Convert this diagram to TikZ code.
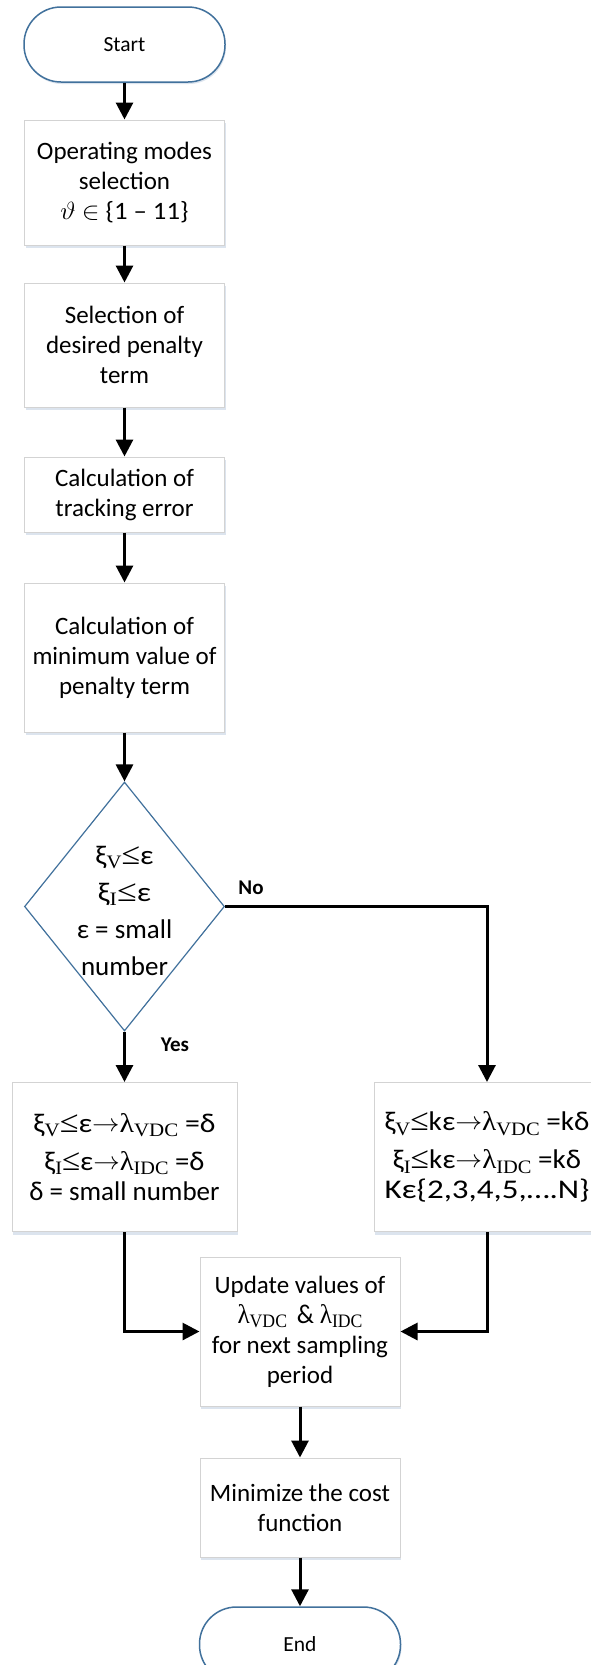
\documentclass[tikz,border=0pt]{standalone}
\usepackage{fontspec}
\setmainfont{Carlito}
\newfontfamily\tnr{Liberation Serif}
\usetikzlibrary{arrows.meta,shapes.geometric,shadows}
\definecolor{termblue}{HTML}{41719C}
\definecolor{boxgray}{HTML}{D3D3D3}
\definecolor{shade}{HTML}{DCE4EE}
\newcommand{\sbx}[1]{\raisebox{-0.16em}{\tnr\fontsize{19}{19}\selectfont #1}}
\newcommand{\tlam}{{\tnr λ}}
\newcommand{\tleq}{{\tnr\fontsize{31}{31}\selectfont ≤}}
\newcommand{\tto}{\raisebox{1pt}{\fontsize{23}{23}\selectfont$\rightarrow$}}
\newcommand{\fitw}[2]{\resizebox{#1}{\height}{#2}}
\begin{document}
\begin{tikzpicture}[x=1pt,y=-1pt,
  procbox/.style={draw=boxgray, line width=1pt, fill=white, minimum width=200pt,
    align=center, inner sep=0pt,
    drop shadow={shadow xshift=1pt, shadow yshift=-3pt, fill=shade, opacity=1},
    font=\fontsize{25}{30}\selectfont},
  mathbox/.style={procbox, font=\fontsize{27}{38}\selectfont},
  term/.style={draw=termblue, line width=1.5pt, fill=white, rounded corners=37pt,
    minimum width=201pt, minimum height=75pt, inner sep=0pt,
    drop shadow={shadow xshift=1pt, shadow yshift=-2pt, fill=shade, opacity=1},
    font=\fontsize{21.5}{26}\selectfont},
  decision/.style={shape=diamond, draw=termblue, line width=1.2pt, fill=white,
    minimum width=200pt, minimum height=249pt, inner sep=0pt},
  yn/.style={font=\bfseries\fontsize{21}{24}\selectfont, inner sep=0pt},
  arr/.style={line width=3pt, -{Triangle[width=17pt,length=17pt]}}
]
\fill[white] (0,0) rectangle (591,1665);
\useasboundingbox (0,0) rectangle (591,1665);

\node[term] (start) at (124.5,44.5) {Start};
\node[procbox, minimum height=125pt] (b1) at (124.5,182.5)
  {Operating modes\\selection\\\fitw{128pt}{$\vartheta$ $\in$ \{1 – 11\}}};
\node[procbox, minimum height=124pt] (b2) at (124.5,345)
  {Selection of\\desired penalty\\term};
\node[procbox, minimum height=75pt] (b3) at (124.5,494.5)
  {Calculation of\\tracking error};
\node[procbox, minimum height=149pt] (b4) at (124.5,657.5)
  {Calculation of\\minimum value of\\penalty term};
\node[decision,
  label={[font=\fontsize{27}{37}\selectfont, align=center, inner sep=0pt, yshift=-4pt]center:{%
    \fitw{58pt}{ξ\sbx{V}\tleq ε}\\\fitw{53pt}{ξ\sbx{I}\tleq ε}\\ε = small\\number}}] (dia) at (124.5,906.5) {};
\node[mathbox, minimum width=225pt, minimum height=149pt] (lb) at (124.5,1157)
  {\fitw{182pt}{ξ\sbx{V}\tleq ε\tto\tlam\sbx{VDC} =δ}\\
   \fitw{160pt}{ξ\sbx{I}\tleq ε\tto\tlam\sbx{IDC} =δ}\\[-8pt]
   δ = small number};
\node[mathbox, minimum width=226pt, minimum height=149pt] (rb) at (487,1157)
  {\fitw{205pt}{ξ\sbx{V}\tleq kε\tto\tlam\sbx{VDC} =kδ}\\
   \fitw{188pt}{ξ\sbx{I}\tleq kε\tto\tlam\sbx{IDC} =kδ}\\[-8pt]
   \fitw{205pt}{Kε\{2,3,4,5,….N\}}};
\node[procbox, minimum height=149pt] (up) at (300,1331.5)
  {Update values of\\{\fontsize{27}{30}\selectfont\fitw{125pt}{\tlam\sbx{VDC}\ \,\& \tlam\sbx{IDC}}}\\for next sampling\\period};
\node[procbox, minimum height=99pt] (mn) at (300,1507.5)
  {Minimize the cost\\function};
\node[term] (end) at (300,1644.5) {End};

\node[yn] (no) at (251,888) {No};
\node[yn] (yes) at (175,1045) {Yes};

\draw[arr] (start) -- (b1);
\draw[arr] (b1) -- (b2);
\draw[arr] (b2) -- (b3);
\draw[arr] (b3) -- (b4);
\draw[arr] (b4) -- (dia);
\draw[arr] (dia.south) -- (lb.north);
\draw[arr] (dia.east) -| (rb.north);
\draw[arr] (lb.south) |- (up.west);
\draw[arr] (rb.south) |- (up.east);
\draw[arr] (up) -- (mn);
\draw[arr] (mn) -- (end);
\end{tikzpicture}
\end{document}
